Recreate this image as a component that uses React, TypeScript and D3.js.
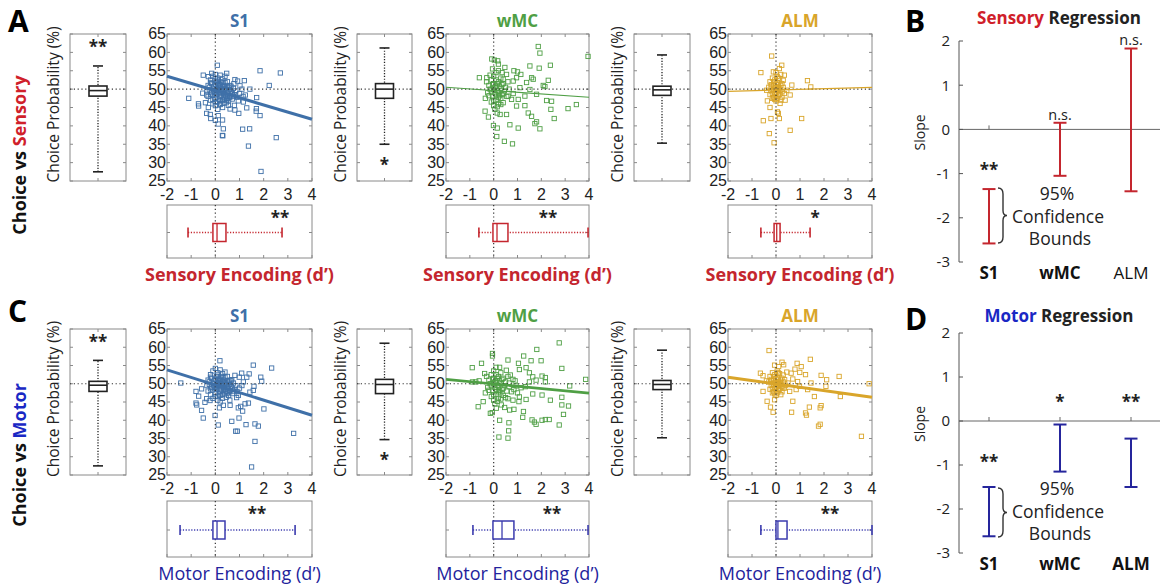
import React from 'react';
import * as d3 from 'd3';

const FONT = "'Open Sans', 'Noto Sans', sans-serif";
const TICK_FONT = "'Liberation Sans', Arial, sans-serif";

// ---------- categories & ticks ----------
const areas = ['S1', 'wMC', 'ALM'];
const cpTicks = [25, 30, 35, 40, 45, 50, 55, 60, 65];
const dTicks = [-2, -1, 0, 1, 2, 3, 4];
const slopeTicks = [2, 1, 0, -1, -2, -3];

// ---------- scatter data: [d', choice probability %] ----------
const sensoryS1: [number, number][] = [
  [1.85, 55], [2.69, 54.4], [0.08, 56.5], [2.23, 51], [-1.1, 47.5], [-0.69, 45.4], [1.71, 47.7], [1.7, 44.7],
  [1.69, 44], [1.85, 42.8], [1.43, 50], [1.16, 46.5], [1.3, 44.9], [0.92, 52.2], [1.2, 52.3], [1.02, 50.9],
  [-0.36, 43.4], [-0.21, 43.1], [0, 41.5], [0.12, 40.5], [0.3, 41.6], [-0.19, 42], [0.12, 42.8], [0.33, 39.2],
  [0.29, 37.4], [0.31, 37.3], [1.13, 39.1], [1.42, 39.2], [1.37, 34.5], [2.52, 36.8], [1.89, 27.6], [0.97, 43.4],
  [0.61, 44.6], [-0.52, 48.9], [-0.36, 48.4], [-0.7, 46], [-0.41, 46.3], [-0.29, 45], [0.22, 46], [0.47, 47],
  [0.81, 44.3], [0.79, 45.6], [0.54, 45.6], [-0.5, 53.8], [-0.29, 53.4], [-0.15, 54.3], [0.47, 54.3], [0.81, 52.6],
  [0.77, 51.5], [1.24, 48.4],
  [-0.3, 51], [-0.2, 52.5], [-0.1, 53.5], [0, 54], [0.1, 53], [0.2, 53.8], [0.3, 52.8], [0.4, 53.5], [0.5, 52], [0.6, 51],
  [-0.35, 49.5], [-0.25, 50.5], [-0.15, 49], [-0.05, 50.8], [0.05, 49.5], [0.15, 51.5], [0.25, 50], [0.35, 51],
  [0.45, 49.8], [0.55, 50.5], [0.65, 49.2], [0.75, 50.2], [-0.3, 48], [-0.2, 47], [-0.1, 48.3], [0, 47.5],
  [0.1, 46.5], [0.2, 48], [0.3, 47], [0.4, 48.5], [0.5, 47.5], [0.6, 48.2], [0.7, 47.3], [0.8, 48.5], [0.9, 47.8],
  [1.0, 48.8], [0, 45.5], [0.1, 44.5], [0.2, 45.8], [0.3, 45], [-0.1, 46], [0.05, 52], [0.25, 52], [0.15, 49.8],
  [0.35, 48.8], [0.45, 46.3], [-0.05, 50], [0.1, 51], [0.3, 49.5], [0.5, 49], [0.85, 49.5], [1.1, 50], [1.15, 48],
  [0.95, 46.8], [-0.2, 51.8], [0.0, 52.8], [0.2, 50.8], [0.4, 50.3], [0.6, 49.8], [-0.1, 47.2], [0.15, 47.2],
  [0.35, 46.2], [0.55, 46.8], [0.7, 48.8],
  [0.0, 49], [0.1, 49.8], [0.2, 49.2], [0.3, 50.6], [0.05, 48.5], [0.15, 48.8], [0.25, 48.4], [0.35, 50.1],
  [0.0, 51.2], [0.2, 51.2], [0.4, 51.8], [-0.15, 51.5], [-0.25, 49.8], [0.45, 48], [0.6, 47.8], [0.65, 50.8],
  [0.1, 52.4], [0.3, 51.8], [-0.05, 49.2], [0.15, 50.5], [0.25, 49.7], [0.05, 50.2], [0.35, 47.8], [0.2, 46.8],
  [0.5, 50.8], [0.75, 48], [0.0, 46.5], [-0.2, 48.6], [0.55, 49.4], [0.4, 47.2]
];
const sensoryWMC: [number, number][] = [
  [1.87, 61.6], [1.94, 59.8], [3.96, 58.9], [1.52, 56.3], [1.91, 55.7], [2.38, 56.5], [0.03, 57.9], [0.17, 57.7],
  [-0.08, 58.2], [0.2, 56.8], [0.47, 55.9], [0.85, 55], [1.0, 54.7], [1.14, 54], [1.59, 53.1], [1.66, 52.7],
  [1.38, 51.8], [2.29, 52.4], [2.08, 51], [2.15, 50.7], [1.1, 50.4], [1.52, 49.9], [1.8, 48.6], [2.22, 46.9],
  [2.43, 46.7], [2.4, 44.5], [2.54, 42], [3.12, 44.7], [3.47, 45.8], [0.96, 45.4], [1.31, 45.5], [1.45, 43.5],
  [1.59, 42.6], [1.73, 40.6], [1.94, 39.2], [1.8, 41.1], [0.68, 40.3], [1.03, 39.4], [-0.22, 42.4], [-0.01, 40.1],
  [0.15, 39.4], [0.13, 37.1], [0.45, 35.8], [0.79, 35.1], [-0.36, 44], [-0.6, 53.1], [-0.29, 53.1], [0.54, 43.1],
  [0.27, 43.1], [0.61, 48.1], [0.82, 48.8], [1.03, 47.2], [0.75, 47.2], [1.31, 48.1], [0.4, 46.3], [0.82, 52.2],
  [0.96, 53.1], [0.54, 54], [0.4, 52.7],
  [-0.2, 51], [-0.1, 52.5], [0, 53.5], [0.1, 54.5], [0.2, 52], [0.3, 53], [0.4, 51.5], [0.5, 50.5],
  [-0.25, 49], [-0.15, 50], [-0.05, 48], [0.05, 50.5], [0.15, 49.5], [0.25, 50.8], [0.35, 48.5], [0.45, 49.5],
  [0.55, 48], [-0.1, 46.5], [0, 45.5], [0.1, 47], [0.2, 46], [0.3, 47.5], [0.05, 44.5], [0.15, 43.5], [-0.05, 55.5],
  [0.2, 55], [0.35, 54.5], [-0.3, 52], [-0.35, 47.5], [0.6, 52], [0.65, 50], [0, 51.5], [0.1, 48.5], [-0.15, 53.8],
  [0, 50], [0.1, 50.8], [0.2, 49], [0.3, 50.2], [-0.1, 49.5], [0.05, 49], [0.15, 51.5], [0.25, 48.2], [0.35, 51.2],
  [-0.05, 51.2], [0.1, 52.5], [0.2, 47.8], [0.0, 47], [0.4, 48.8], [-0.2, 48.2], [0.3, 45.8], [0.15, 45.2]
];
const sensoryALM: [number, number][] = [
  [-0.18, 59], [-0.63, 54.5], [-0.11, 54.7], [0, 54.5], [0.24, 56.5], [0.14, 55.6], [0.35, 53.8], [1.31, 52.3],
  [1.45, 50.6], [0.66, 51.1], [0.59, 48.4], [-0.36, 46.8], [-0.25, 45], [0.06, 43.8], [0.1, 43.4], [-0.53, 41.4],
  [-0.21, 42], [0.14, 42], [1.07, 42], [-0.28, 37.9], [-0.08, 35.4], [0.59, 38.8], [0.38, 47], [0.17, 46.1],
  [-0.39, 49.7], [0.45, 49.7],
  [-0.25, 52], [-0.15, 53], [-0.05, 52.5], [0.05, 53.5], [0.15, 52.8], [0.25, 51.5], [-0.3, 50.5], [-0.2, 49.5],
  [-0.1, 51], [0, 50], [0.1, 51.2], [0.2, 49.8], [0.3, 50.5], [-0.25, 48.5], [-0.15, 47.5], [-0.05, 48.8],
  [0.05, 47.5], [0.15, 48.5], [0.25, 47.8], [0, 46.8], [0.1, 49.3], [-0.1, 49.8], [0.05, 51.8], [0.35, 48.8],
  [0.2, 54], [-0.2, 51.2], [0.1, 50.4], [-0.05, 47.2], [0.2, 47], [0.3, 52.4],
  [0, 49], [0.05, 50.5], [-0.05, 50.4], [0.1, 48.4], [-0.15, 48.8], [0.15, 50], [0.2, 51], [-0.1, 52],
  [0, 51.4], [0.1, 53], [-0.2, 50.8], [0.25, 49.3], [0, 48], [-0.1, 47.8], [0.05, 49.7]
];
const motorS1: [number, number][] = [
  [-1.43, 50.2], [-0.8, 44.7], [-0.77, 44.2], [-0.57, 42.7], [-0.5, 40.6], [-0.69, 46.6], [0.19, 56.3], [1.57, 55.1],
  [2.33, 54.3], [1.88, 51.8], [1.92, 50.7], [1.09, 52.9], [1.3, 51.8], [1.4, 52.7], [1.6, 49.3], [1.57, 48.2],
  [1.16, 50.5], [1.43, 47.7], [2.01, 43.1], [1.37, 44.7], [1.23, 44.5], [1.05, 43.8], [0.95, 43.4], [1.13, 42.5],
  [0.98, 40.6], [0.68, 39.7], [0.84, 37], [0.91, 37], [1.27, 38.8], [1.64, 39], [1.78, 38.4], [1.64, 34.2],
  [3.24, 36.4], [1.5, 27.2], [0.12, 38.7], [-0.01, 41.3], [0.17, 43.4], [0.33, 44.1], [-0.36, 45.9], [-0.22, 45.4],
  [-0.43, 44.9], [0.61, 44.1], [0.88, 46.2], [0.6, 45.5], [0.81, 52.3], [0.99, 51.8], [0.68, 51.1], [-0.8, 47.9],
  [-0.57, 48.6],
  [-0.3, 51], [-0.2, 52.5], [-0.1, 53.5], [0, 54.2], [0.1, 53], [0.2, 53.8], [0.3, 52.8], [0.4, 53.2], [0.5, 52], [0.6, 51],
  [-0.35, 49.5], [-0.25, 50.5], [-0.15, 49], [-0.05, 50.8], [0.05, 49.5], [0.15, 51.5], [0.25, 50], [0.35, 51],
  [0.45, 49.8], [0.55, 50.5], [0.65, 49.2], [0.75, 50.2], [-0.3, 48], [-0.2, 47], [-0.1, 48.3], [0, 47.5],
  [0.1, 46.5], [0.2, 48], [0.3, 47], [0.4, 48.5], [0.5, 47.5], [0.6, 48.2], [0.7, 47.3], [0.8, 48.5], [0.9, 47.8],
  [1.0, 48.8], [0.1, 45.5], [0.2, 45], [0.3, 46], [-0.1, 46], [0.05, 52], [0.25, 52], [0.15, 49.8], [0.35, 48.8],
  [0.45, 46.3], [-0.05, 50], [0.1, 51], [0.3, 49.5], [0.5, 49], [0.85, 49.5], [1.1, 49.5], [0.95, 46.8],
  [-0.2, 51.8], [0.2, 50.8], [0.4, 50.3], [0.6, 49.8], [0.15, 47.2], [0.55, 46.8], [0.7, 48.8],
  [0.0, 49], [0.1, 49.8], [0.2, 49.2], [0.3, 50.6], [0.05, 48.5], [0.15, 48.8], [0.25, 48.4], [0.35, 50.1],
  [0.0, 51.2], [0.2, 51.2], [0.4, 51.8], [-0.15, 51.5], [-0.25, 49.8], [0.45, 48], [0.6, 47.8], [0.65, 50.8],
  [0.1, 52.4], [0.3, 51.8], [-0.05, 49.2], [0.15, 50.5], [0.25, 49.7], [0.05, 50.2], [0.35, 47.8], [0.2, 46.8],
  [0.5, 50.8], [0.75, 48], [0.0, 46.5], [-0.2, 48.6], [0.55, 49.4], [0.4, 47.2]
];
const motorWMC: [number, number][] = [
  [2.75, 61.2], [1.81, 59.4], [-0.05, 58.3], [-0.05, 57.6], [1.26, 57.6], [0.6, 56.5], [1.57, 56.3], [1.99, 56.3],
  [-0.9, 54.4], [-0.51, 55.6], [1.04, 55.6], [2.86, 54.2], [1.08, 53.9], [1.36, 54.4], [1.5, 53], [1.64, 51.9],
  [2.03, 52.1], [1.78, 51], [2.17, 50.5], [2.17, 51.7], [3.86, 51.2], [3.19, 49.4], [1.33, 49.2], [2.03, 46.9],
  [2.38, 45.5], [2.86, 46.3], [2.86, 44.2], [3.14, 43.9], [2.93, 41.6], [2.75, 38.7], [2.33, 40.2], [2.17, 40.2],
  [2.03, 40], [1.71, 39.5], [1.78, 38.9], [1.61, 40.1], [1.25, 42.4], [1.22, 40.8], [0.85, 43], [1.06, 45.1],
  [0.67, 42.8], [0.25, 40], [0.64, 39.3], [0.63, 37.1], [0.22, 35.4], [0.6, 35.1], [-0.14, 41.9], [-0.06, 42.1],
  [-0.65, 43.7], [-0.44, 45.1], [-0.89, 50.5], [-0.75, 50.5], [-0.61, 50.8], [0.32, 44.2], [0.46, 43.5], [0.11, 43.3],
  [1.08, 46.4], [1.36, 45.7], [1.64, 47.2], [0.81, 45.5], [0.6, 45.9], [0.94, 49.4], [0.81, 51.2], [1.5, 50.5],
  [0.53, 53.7], [0.25, 54.5], [-0.38, 52.8],
  [-0.2, 51], [-0.1, 52.5], [0, 53.5], [0.1, 54.5], [0.2, 52], [0.3, 53], [0.4, 51.5], [0.5, 50.5], [0.7, 52.4],
  [-0.25, 49], [-0.15, 50], [-0.05, 48], [0.05, 50.5], [0.15, 49.5], [0.25, 50.8], [0.35, 48.5], [0.45, 49.5],
  [0.55, 48], [0.65, 49.2], [0.75, 47.8], [-0.1, 46.5], [0, 45.5], [0.1, 47], [0.2, 46], [0.3, 47.5], [0.4, 46.8],
  [0.5, 46.2], [0.05, 44.5], [-0.3, 52], [-0.35, 47.5], [0.6, 52], [0.65, 50.2], [0, 51.5], [0.1, 48.5], [0.85, 48.4],
  [0.9, 50.8], [1.0, 47.5], [1.15, 48.9],
  [0, 50], [0.1, 50.8], [0.2, 49], [0.3, 50.2], [-0.1, 49.5], [0.05, 49], [0.15, 51.5], [0.25, 48.2], [0.35, 51.2],
  [-0.05, 51.2], [0.1, 52.5], [0.2, 47.8], [0.0, 47], [0.4, 48.8], [-0.2, 48.2], [0.3, 45.8], [0.15, 45.2]
];
const motorALM: [number, number][] = [
  [-0.29, 59.1], [1.43, 56.7], [-0.06, 55.1], [0.11, 54.7], [0.25, 55.9], [0.32, 55.2], [0.88, 55.6], [1.05, 54.7],
  [0.79, 54], [0.99, 53.1], [-0.65, 52.9], [-0.54, 52.2], [1.23, 52.5], [1.88, 52.3], [2.63, 52], [2.11, 51.1],
  [2.08, 49.3], [3.88, 50], [1.46, 50.2], [1.32, 48.4], [1.6, 46.5], [2.68, 46.5], [0.7, 45.2], [-0.37, 45.2],
  [-0.06, 45.6], [-0.23, 43.6], [-0.12, 42.2], [0.65, 42.2], [1.39, 43.6], [1.23, 42], [1.27, 41.4], [1.88, 44],
  [1.84, 43.4], [1.77, 38.4], [1.84, 38.9], [3.56, 35.6], [-0.54, 47.9], [0.29, 48.8], [0.84, 48.4], [0.98, 49.3],
  [0.57, 47.9], [0.36, 51.1], [0.63, 52.9], [0.5, 50.2], [0.7, 51.3], [0.45, 53.2], [-0.4, 50.8], [0.9, 50.6],
  [-0.25, 52], [-0.15, 53], [-0.05, 52.5], [0.05, 53.5], [0.15, 52.8], [0.25, 51.5], [-0.3, 50.5], [-0.2, 49.5],
  [-0.1, 51], [0, 50], [0.1, 51.2], [0.2, 49.8], [0.3, 50.5], [-0.25, 48.5], [-0.15, 47.5], [-0.05, 48.8],
  [0.05, 47.5], [0.15, 48.5], [0.25, 47.8], [0, 46.8], [0.1, 49.3], [-0.1, 49.8], [0.05, 51.8], [0.35, 48.8],
  [0.4, 49.6], [-0.2, 51.2], [0.1, 50.4], [-0.05, 47.2], [0.2, 47], [0.3, 52.4],
  [0, 49], [0.05, 50.5], [-0.05, 50.4], [0.1, 48.4], [-0.15, 48.8], [0.15, 50], [0.2, 51], [-0.1, 52],
  [0, 51.4], [0.1, 53], [-0.2, 50.8], [0.25, 49.3], [0, 48], [-0.1, 47.8], [0.05, 49.7]
];

// regression fits: [intercept, slope]
const sensoryFits: [number, number][] = [[49.6, -1.95], [49.6, -0.45], [49.76, 0.18]];
const motorFits: [number, number][] = [[49.66, -2.07], [49.94, -0.63], [49.96, -0.92]];

// choice probability box stats: [lowWhisker, q1, median, q3, highWhisker]
const sensoryCPStats = [[27.5, 48.1, 49.6, 50.85, 56.3], [35, 47.5, 50, 51.5, 61.2], [35.3, 48.3, 49.8, 50.8, 59.3]];
const motorCPStats = [[27.5, 47.9, 49.6, 50.66, 56.4], [34.7, 47.3, 49.8, 51.2, 61.1], [35.2, 48.4, 49.8, 50.9, 59.2]];
const cpStars = ['**', '*', ''];
const cpStarValues = [59.8, 27.6, 0];

// encoding (d') box stats
const sensoryEncStats = [[-1.13, -0.1, 0.07, 0.44, 2.76], [-0.62, -0.03, 0.14, 0.6, 3.96], [-0.63, -0.08, 0.03, 0.17, 1.42]];
const motorEncStats = [[-1.46, -0.1, 0.07, 0.4, 3.3], [-0.87, -0.03, 0.35, 0.85, 3.96], [-0.63, 0.0, 0.08, 0.46, 4.0]];
const sensoryEncStars = ['**', '**', '*'];
const motorEncStars = ['**', '**', '**'];
const sensoryEncStarX = [2.68, 2.28, 1.63];
const motorEncStarX = [1.72, 2.45, 2.25];

// regression slope 95% confidence bounds: [low, high]
const sensoryCI: [number, number][] = [[-2.58, -1.35], [-1.05, 0.15], [-1.4, 1.83]];
const motorCI: [number, number][] = [[-2.62, -1.5], [-1.15, -0.08], [-1.5, -0.4]];
const sensorySig = ['**', 'n.s.', 'n.s.'];
const motorSig = ['**', '*', '**'];
const sensorySigY = [-1.05, 0.21, 1.92];
const motorSigY = [-1.07, 0.3, 0.3];

// ---------- styles ----------
const areaColors = ['#3f70a8', '#4f9f45', '#d9a52a'];
const RED = '#c4262e';
const MOTOR_BLUE = '#3b3bae';
const MOTOR_TEXT = '#23239c';
const MOTOR_BRIGHT = '#1a28c4';
const FRAME = '#8a8a8a';
const TXT = '#222';

const cols = [
  { boxL: 70, boxR: 126, scL: 167, scR: 312, labX: 59 },
  { boxL: 357, boxR: 412, scL: 446, scR: 589, labX: 346 },
  { boxL: 634, boxR: 690, scL: 728, scR: 872, labX: 623 },
];
const rows = [
  { top: 34, bottom: 181, encTop: 205, encBottom: 258, encLab: 281 },
  { top: 329, bottom: 475, encTop: 501, encBottom: 557, encLab: 580 },
];

const dotted = { stroke: '#333', strokeWidth: 1.2, strokeDasharray: '1.2 2.6' };

function Scatter({ col, row, pts, fit, color, lw, title }: any) {
  const x = d3.scaleLinear().domain([-2, 4]).range([col.scL, col.scR]);
  const y = d3.scaleLinear().domain([25, 65]).range([row.bottom, row.top]);
  const s = 4.3;
  return (
    <g>
      <text x={(col.scL + col.scR) / 2} y={row.top - 7} textAnchor="middle" fontWeight="bold" fontSize={17} fill={color}>{title}</text>
      <rect x={col.scL} y={row.top} width={col.scR - col.scL} height={row.bottom - row.top} fill="white" stroke={FRAME} />
      {dTicks.map(t => (
        <g key={'xt' + t}>
          <line x1={x(t)} x2={x(t)} y1={row.bottom} y2={row.bottom - 3} stroke={FRAME} />
          <line x1={x(t)} x2={x(t)} y1={row.top} y2={row.top + 3} stroke={FRAME} />
          <text x={x(t)} y={row.bottom + 19} textAnchor="middle" fontSize={16} fontFamily={TICK_FONT} fill={TXT}>{t}</text>
        </g>
      ))}
      {cpTicks.map(t => (
        <g key={'yt' + t}>
          <line x1={col.scL} x2={col.scL + 3} y1={y(t)} y2={y(t)} stroke={FRAME} />
          <line x1={col.scR} x2={col.scR - 3} y1={y(t)} y2={y(t)} stroke={FRAME} />
          <text x={col.scL - 1} y={y(t)} dy="0.34em" textAnchor="end" fontSize={16} fontFamily={TICK_FONT} fill={TXT}>{t}</text>
        </g>
      ))}
      {pts.map((p: [number, number], i: number) => (
        <rect key={i} x={x(p[0]) - s / 2} y={y(p[1]) - s / 2} width={s} height={s} fill="none" stroke={color} strokeWidth={0.9} />
      ))}
      <line x1={x(0)} x2={x(0)} y1={row.top} y2={row.bottom} {...dotted} />
      <line x1={col.scL} x2={col.scR} y1={y(50)} y2={y(50)} {...dotted} />
      <line x1={x(-2)} x2={x(4)} y1={y(fit[0] + fit[1] * -2)} y2={y(fit[0] + fit[1] * 4)} stroke={color} strokeWidth={lw} />
    </g>
  );
}

function CPBox({ col, row, st, star, starV }: any) {
  const y = d3.scaleLinear().domain([25, 65]).range([row.bottom, row.top]);
  const cx = (col.boxL + col.boxR) / 2;
  const bw = 18;
  return (
    <g>
      <text transform={`translate(${col.labX},${(row.top + row.bottom) / 2 - 3}) rotate(-90)`} textAnchor="middle" fontSize={15.5} fill={TXT}>Choice Probability (%)</text>
      <rect x={col.boxL} y={row.top} width={col.boxR - col.boxL} height={row.bottom - row.top} fill="white" stroke={FRAME} />
      {cpTicks.map(t => (
        <g key={t}>
          <line x1={col.boxL} x2={col.boxL + 3} y1={y(t)} y2={y(t)} stroke={FRAME} />
          <line x1={col.boxR} x2={col.boxR - 3} y1={y(t)} y2={y(t)} stroke={FRAME} />
        </g>
      ))}
      <line x1={cx} x2={cx} y1={row.top} y2={row.top + 3} stroke={FRAME} />
      <line x1={cx} x2={cx} y1={row.bottom} y2={row.bottom - 3} stroke={FRAME} />
      <line x1={col.boxL} x2={col.boxR} y1={y(50)} y2={y(50)} {...dotted} />
      <line x1={cx} x2={cx} y1={y(st[0])} y2={y(st[4])} stroke="#222" strokeWidth={1.3} strokeDasharray="1.2 1.6" />
      <line x1={cx - 5} x2={cx + 5} y1={y(st[0])} y2={y(st[0])} stroke="#222" strokeWidth={1.6} />
      <line x1={cx - 5} x2={cx + 5} y1={y(st[4])} y2={y(st[4])} stroke="#222" strokeWidth={1.6} />
      <rect x={cx - bw / 2} y={y(st[3])} width={bw} height={y(st[1]) - y(st[3])} fill="white" stroke="#222" strokeWidth={1.6} />
      <line x1={cx - bw / 2} x2={cx + bw / 2} y1={y(st[2])} y2={y(st[2])} stroke="#222" strokeWidth={1.6} />
      {star && <text x={cx} y={y(starV)} textAnchor="middle" fontSize={17} fontWeight="bold" fill={TXT}>{star}</text>}
    </g>
  );
}

function EncBox({ col, row, st, color, star, starX, label, labelWeight, labelColor }: any) {
  const x = d3.scaleLinear().domain([-2, 4]).range([col.scL, col.scR]);
  const cy = (row.encTop + row.encBottom) / 2 + 1;
  const bh = 18;
  return (
    <g>
      <rect x={col.scL} y={row.encTop} width={col.scR - col.scL} height={row.encBottom - row.encTop} fill="white" stroke={FRAME} />
      {dTicks.map(t => (
        <line key={t} x1={x(t)} x2={x(t)} y1={row.encBottom} y2={row.encBottom - 3} stroke={FRAME} />
      ))}
      <line x1={col.scL} x2={col.scL + 3} y1={cy} y2={cy} stroke={FRAME} />
      <line x1={col.scR} x2={col.scR - 3} y1={cy} y2={cy} stroke={FRAME} />
      <line x1={x(0)} x2={x(0)} y1={row.encTop} y2={row.encBottom} {...dotted} />
      <line x1={x(st[0])} x2={x(st[4])} y1={cy} y2={cy} stroke={color} strokeWidth={1.3} strokeDasharray="1.2 1.6" />
      <line x1={x(st[0])} x2={x(st[0])} y1={cy - 5} y2={cy + 5} stroke={color} strokeWidth={1.6} />
      <line x1={x(st[4])} x2={x(st[4])} y1={cy - 5} y2={cy + 5} stroke={color} strokeWidth={1.6} />
      <rect x={x(st[1])} y={cy - bh / 2} width={x(st[3]) - x(st[1])} height={bh} fill="white" stroke={color} strokeWidth={1.5} />
      <line x1={x(st[2])} x2={x(st[2])} y1={cy - bh / 2} y2={cy + bh / 2} stroke={color} strokeWidth={1.3} />
      <text x={x(starX)} y={row.encTop + 19} textAnchor="middle" fontSize={17} fontWeight="bold" fill={TXT}>{star}</text>
      <text x={(col.scL + col.scR) / 2} y={row.encLab} textAnchor="middle" fontSize={18} fontWeight={labelWeight} fill={labelColor}>{label}</text>
    </g>
  );
}

function Regression({ yTop, yBottom, ci, sig, sigY, color, word, wordColor, catBold, braceTop, braceBottom, textY, titleY, letter }: any) {
  const y = d3.scaleLinear().domain([-3, 2]).range([yBottom, yTop]);
  const x = d3.scalePoint().domain(areas).range([989, 1131]);
  const axX = 959;
  const bx = 1001;
  const bm = (braceTop + braceBottom) / 2;
  const brace = `M${bx - 3},${braceTop} Q${bx + 2},${braceTop} ${bx + 2},${braceTop + 6} L${bx + 2},${bm - 5} Q${bx + 2},${bm} ${bx + 6},${bm} Q${bx + 2},${bm} ${bx + 2},${bm + 5} L${bx + 2},${braceBottom - 6} Q${bx + 2},${braceBottom} ${bx - 3},${braceBottom}`;
  return (
    <g>
      <text x={905} y={titleY + 8} fontSize={30} fontWeight="bold" fill="#000">{letter}</text>
      <text x={1059} y={titleY} textAnchor="middle" fontSize={17} fontWeight="bold">
        <tspan fill={wordColor}>{word}</tspan><tspan fill={TXT}> Regression</tspan>
      </text>
      <line x1={axX} x2={axX} y1={y(2)} y2={y(-3)} stroke="#555" />
      <line x1={axX} x2={1160} y1={y(0)} y2={y(0)} stroke="#666" />
      {slopeTicks.map(t => (
        <g key={t}>
          <line x1={axX} x2={axX + 4} y1={y(t)} y2={y(t)} stroke="#555" />
          <text x={950} y={y(t)} dy="0.36em" textAnchor="end" fontSize={15} fill={TXT}>{t}</text>
        </g>
      ))}
      <text transform={`translate(925,${y(0) + 3}) rotate(-90)`} textAnchor="middle" fontSize={14} fill={TXT}>Slope</text>
      {areas.map((a, i) => (
        <g key={a}>
          <line x1={x(a)!} x2={x(a)!} y1={y(0)} y2={y(0) - 4} stroke="#666" />
          <line x1={x(a)!} x2={x(a)!} y1={y(ci[i][0])} y2={y(ci[i][1])} stroke={color} strokeWidth={2} />
          <line x1={x(a)! - 6.5} x2={x(a)! + 6.5} y1={y(ci[i][0])} y2={y(ci[i][0])} stroke={color} strokeWidth={2} />
          <line x1={x(a)! - 6.5} x2={x(a)! + 6.5} y1={y(ci[i][1])} y2={y(ci[i][1])} stroke={color} strokeWidth={2} />
          <text x={x(a)!} y={y(sigY[i])} textAnchor="middle" fontSize={sig[i] === 'n.s.' ? 14.5 : 17} fontWeight={sig[i] === 'n.s.' ? 'normal' : 'bold'} fill={TXT}>{sig[i]}</text>
          <text x={x(a)!} y={yBottom + 17} textAnchor="middle" fontSize={17} fontWeight={catBold[i] ? 'bold' : 'normal'} fill="#111">{a}</text>
        </g>
      ))}
      <path d={brace} fill="none" stroke="#333" strokeWidth={1.4} />
      <text x={1057} y={textY[0]} textAnchor="middle" fontSize={17.5} fill={TXT}>95%</text>
      <text x={1058} y={textY[1]} textAnchor="middle" fontSize={17.5} fill={TXT}>Confidence</text>
      <text x={1060} y={textY[2]} textAnchor="middle" fontSize={17.5} fill={TXT}>Bounds</text>
    </g>
  );
}

export default function App() {
  return (
    <svg width={1160} height={584} style={{ position: 'absolute', left: 0, top: 0, background: 'white' }} fontFamily={FONT}>
      <rect width={1160} height={584} fill="white" />
      {/* Row labels */}
      <text x={8} y={32} fontSize={30} fontWeight="bold">A</text>
      <text x={8} y={322} fontSize={30} fontWeight="bold">C</text>
      <text transform="translate(26,155) rotate(-90)" textAnchor="middle" fontSize={18} fontWeight="bold">
        <tspan fill="#111">Choice vs </tspan><tspan fill="#d0202a">Sensory</tspan>
      </text>
      <text transform="translate(26,455) rotate(-90)" textAnchor="middle" fontSize={18} fontWeight="bold">
        <tspan fill="#111">Choice vs </tspan><tspan fill={MOTOR_BRIGHT}>Motor</tspan>
      </text>

      {areas.map((a, i) => (
        <g key={'s' + a}>
          <CPBox col={cols[i]} row={rows[0]} st={sensoryCPStats[i]} star={cpStars[i]} starV={cpStarValues[i]} />
          <Scatter col={cols[i]} row={rows[0]} pts={[sensoryS1, sensoryWMC, sensoryALM][i]} fit={sensoryFits[i]} color={areaColors[i]} lw={i === 0 ? 3 : 1.1} title={a} />
          <EncBox col={cols[i]} row={rows[0]} st={sensoryEncStats[i]} color={RED} star={sensoryEncStars[i]} starX={sensoryEncStarX[i]} label="Sensory Encoding (d’)" labelWeight="bold" labelColor={RED} />
        </g>
      ))}
      {areas.map((a, i) => (
        <g key={'m' + a}>
          <CPBox col={cols[i]} row={rows[1]} st={motorCPStats[i]} star={cpStars[i]} starV={cpStarValues[i]} />
          <Scatter col={cols[i]} row={rows[1]} pts={[motorS1, motorWMC, motorALM][i]} fit={motorFits[i]} color={areaColors[i]} lw={i === 1 ? 2.6 : 3} title={a} />
          <EncBox col={cols[i]} row={rows[1]} st={motorEncStats[i]} color={MOTOR_BLUE} star={motorEncStars[i]} starX={motorEncStarX[i]} label="Motor Encoding (d’)" labelWeight="normal" labelColor={MOTOR_TEXT} />
        </g>
      ))}

      <Regression yTop={41} yBottom={262} ci={sensoryCI} sig={sensorySig} sigY={sensorySigY} color={RED} word="Sensory" wordColor="#d0202a"
        catBold={[true, true, false]} braceTop={188} braceBottom={243} textY={[200, 223, 245]} titleY={24} letter="B" />
      <Regression yTop={333} yBottom={553} ci={motorCI} sig={motorSig} sigY={motorSigY} color="#25259c" word="Motor" wordColor={MOTOR_BRIGHT}
        catBold={[true, true, true]} braceTop={488} braceBottom={537} textY={[495, 518, 540]} titleY={322} letter="D" />
    </svg>
  );
}
